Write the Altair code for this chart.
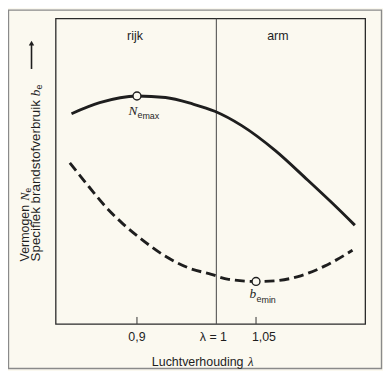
import altair as alt
import pandas as pd

# ---- data ----
lam_power = [0.8175, 0.853, 0.9, 0.936, 0.97, 0.998, 1.032, 1.074, 1.115, 1.145, 1.1745]
power_vals = [68.8, 72.4, 74.6, 74.1, 72.0, 69.6, 64.9, 56.8, 47.1, 39.8, 32.3]

lam_fuel = [0.8154, 0.8395, 0.8604, 0.8813, 0.9063, 0.9354, 0.9645, 0.9938, 1.0154,
            1.0508, 1.0738, 1.1029, 1.1363, 1.1716]
fuel_vals = [52.7, 44.9, 38.4, 33.0, 27.6, 22.2, 18.4, 16.2, 14.6, 13.9, 14.1, 15.5, 18.9, 24.1]

peak_lam, peak_val = [0.9], [74.6]
min_lam, min_val = [1.05], [13.9]

tick_vals = [0.9, 1.05]
tick_labels = ["0,9", "1,05"]
stoich_lam = [1.0]
stoich_label = ["λ = 1"]
region_lam = [0.8975, 1.0775]
region_labels = ["rijk", "arm"]

INK = "#1e1e1e"
BG = "#fbf9f0"
SANS = "Liberation Sans"
SERIF = "Liberation Serif"
W, H = 312, 308

xs = alt.Scale(domain=[0.7975, 1.1875], nice=False, zero=False)
ys = alt.Scale(domain=[0, 100], nice=False, zero=False)
X = alt.X("lam:Q", scale=xs, axis=None)
Y = alt.Y("v:Q", scale=ys, axis=None)

df_p = pd.DataFrame({"lam": lam_power, "v": power_vals})
df_f = pd.DataFrame({"lam": lam_fuel, "v": fuel_vals})
df_peak = pd.DataFrame({"lam": peak_lam, "v": peak_val})
df_min = pd.DataFrame({"lam": min_lam, "v": min_val})
df_ticks = pd.DataFrame({"lam": tick_vals, "t": tick_labels})
df_st = pd.DataFrame({"lam": stoich_lam, "t": stoich_label})
df_reg = pd.DataFrame({"lam": region_lam, "t": region_labels})
dummy = pd.DataFrame({"a": [0]})

power = alt.Chart(df_p).mark_line(color=INK, strokeWidth=2.9, interpolate="monotone").encode(X, Y)
fuel = alt.Chart(df_f).mark_line(color=INK, strokeWidth=2.9, interpolate="monotone",
                                 strokeDash=[10, 5]).encode(X, Y)
pts = alt.Chart(pd.concat([df_peak, df_min])).mark_point(
    shape="circle", size=64, filled=True, fill=BG, stroke=INK, strokeWidth=1.4, opacity=1
).encode(X, Y)

stoich_line = alt.Chart(df_st).mark_rule(color="#444", strokeWidth=1).encode(
    x=X, y=alt.value(0), y2=alt.value(H))
ticks = alt.Chart(df_ticks).mark_rule(color="#333", strokeWidth=1).encode(
    x=X, y=alt.value(H), y2=alt.value(H - 7))

lab09 = alt.Chart(df_ticks.iloc[[0]]).mark_text(font=SANS, fontSize=12.5, color=INK, baseline="middle").encode(
    x=X, y=alt.value(H + 13), text="t:N")
lab105 = alt.Chart(df_ticks.iloc[[1]]).mark_text(font=SANS, fontSize=12.5, color=INK, baseline="middle",
                                                 dx=8).encode(x=X, y=alt.value(H + 13), text="t:N")
lab_st = alt.Chart(df_st).mark_text(font=SANS, fontSize=12.5, color=INK, baseline="middle", dx=-3).encode(
    x=X, y=alt.value(H + 13), text="t:N")

regions = alt.Chart(df_reg).mark_text(font=SANS, fontSize=12.5, color=INK, baseline="middle").encode(
    x=X, y=alt.value(18), text="t:N")

# N_e max label
n_main = alt.Chart(df_peak).mark_text(text="N", font=SERIF, fontStyle="italic", fontSize=13.5, color=INK,
                                      align="left", baseline="alphabetic", dx=-8.5, dy=19.5).encode(X, Y)
n_e = alt.Chart(df_peak).mark_text(text="e", font=SANS, fontSize=9, color=INK,
                                   align="left", baseline="alphabetic", dx=0.5, dy=22).encode(X, Y)
n_max = alt.Chart(df_peak).mark_text(text="max", font=SANS, fontSize=9, color=INK,
                                     align="left", baseline="alphabetic", dx=5.5, dy=23.5).encode(X, Y)
# b_e min label
b_main = alt.Chart(df_min).mark_text(text="b", font=SERIF, fontStyle="italic", fontSize=13.5, color=INK,
                                     align="left", baseline="alphabetic", dx=-6.5, dy=17).encode(X, Y)
b_e = alt.Chart(df_min).mark_text(text="e", font=SANS, fontSize=9, color=INK,
                                  align="left", baseline="alphabetic", dx=0.5, dy=20.5).encode(X, Y)
b_min = alt.Chart(df_min).mark_text(text="min", font=SANS, fontSize=9, color=INK,
                                    align="left", baseline="alphabetic", dx=5.5, dy=22).encode(X, Y)

# x title
xt1 = alt.Chart(dummy).mark_text(text="Luchtverhouding", font=SANS, fontSize=12.5, color=INK,
                                 align="left", baseline="middle").encode(x=alt.value(97), y=alt.value(346))
xt2 = alt.Chart(dummy).mark_text(text="λ", font=SERIF, fontStyle="italic", fontSize=13, color=INK,
                                 align="left", baseline="middle").encode(x=alt.value(194), y=alt.value(346))

# y title (rotated, reading upward)
L1X, L2X = -31.0, -19.5
yt1a = alt.Chart(dummy).mark_text(text="Vermogen ", font=SANS, fontSize=12.5, color=INK, angle=270,
                                  align="left", baseline="middle").encode(x=alt.value(L1X), y=alt.value(245))
yt1b = alt.Chart(dummy).mark_text(text="N", font=SERIF, fontStyle="italic", fontSize=12.5, color=INK, angle=270,
                                  align="left", baseline="middle").encode(x=alt.value(L1X), y=alt.value(183.9))
yt1c = alt.Chart(dummy).mark_text(text="e", font=SANS, fontSize=8.5, color=INK, angle=270,
                                  align="left", baseline="middle").encode(x=alt.value(L1X + 3), y=alt.value(175.4))
yt2a = alt.Chart(dummy).mark_text(text="Specifiek brandstofverbruik ", font=SANS, fontSize=13.5, color=INK,
                                  angle=270, align="left", baseline="middle").encode(
    x=alt.value(L2X), y=alt.value(245))
yt2b = alt.Chart(dummy).mark_text(text="b", font=SERIF, fontStyle="italic", fontSize=13.5, color=INK, angle=270,
                                  align="left", baseline="middle").encode(x=alt.value(L2X), y=alt.value(78.4))
yt2c = alt.Chart(dummy).mark_text(text="e", font=SANS, fontSize=9, color=INK, angle=270,
                                  align="left", baseline="middle").encode(x=alt.value(L2X + 3), y=alt.value(71.6))

arrow_line = alt.Chart(dummy).mark_rule(color=INK, strokeWidth=1.6).encode(
    x=alt.value(-24.3), y=alt.value(51), y2=alt.value(26))
arrow_head = alt.Chart(dummy).mark_point(shape="triangle-up", size=30, filled=True, color=INK, opacity=1).encode(
    x=alt.value(-24.3), y=alt.value(25))

frame = alt.Chart(dummy).mark_rect(fillOpacity=0, stroke="#8a8a8a", strokeWidth=1.4).encode(
    x=alt.value(-47.5), x2=alt.value(328.5), y=alt.value(-8.3), y2=alt.value(353))

chart = alt.layer(
    frame, stoich_line, ticks, power, fuel, pts,
    lab09, lab105, lab_st, regions,
    n_main, n_e, n_max, b_main, b_e, b_min,
    xt1, xt2, yt1a, yt1b, yt1c, yt2a, yt2b, yt2c, arrow_line, arrow_head,
).properties(
    width=W, height=H,
    padding={"left": 48, "top": 9, "right": 18, "bottom": 46},
    autosize=alt.AutoSizeParams(type="none"),
    background=BG,
).configure_view(stroke="#2a2a2a", strokeWidth=1.3)

chart.save("out.html", embed_options={"renderer": "svg", "actions": False})
